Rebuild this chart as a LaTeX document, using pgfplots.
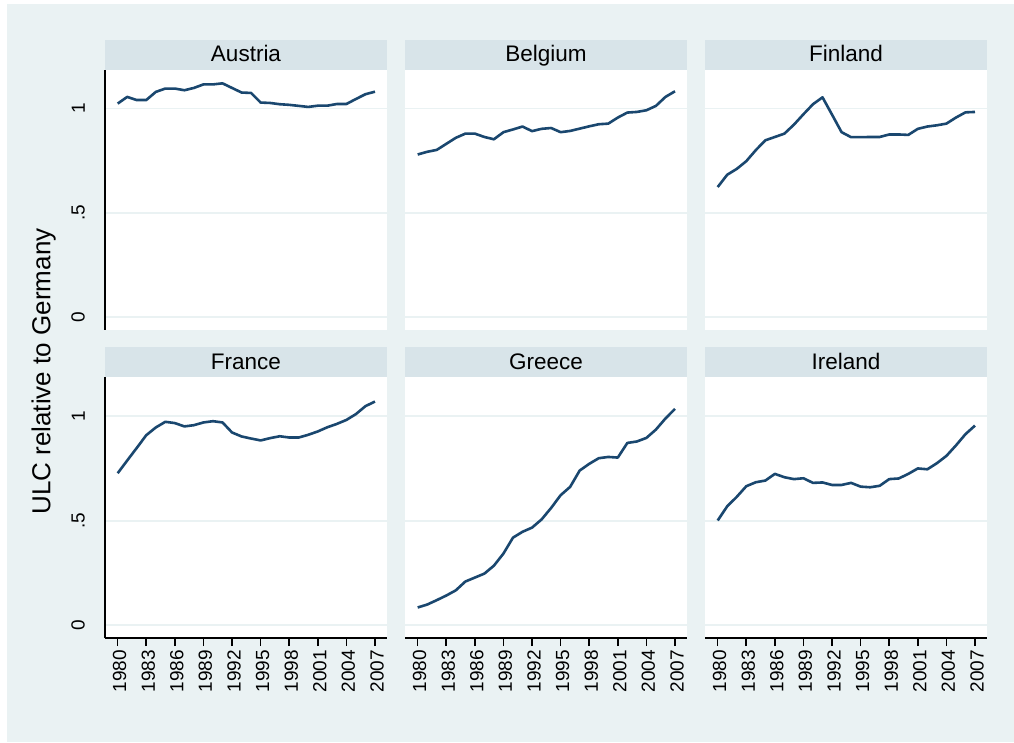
\documentclass[border=0pt]{standalone}
\usepackage{fontspec}
\setmainfont{Liberation Sans}
\usepackage{pgfplots}
\usepackage{pgfplotstable}
\pgfplotsset{compat=1.18}
\definecolor{bgc}{RGB}{234,242,243}
\definecolor{stripc}{RGB}{216,228,233}
\definecolor{linec}{RGB}{26,71,111}
\definecolor{gridc}{RGB}{234,242,243}
\newcommand{\tickfont}{\fontsize{19}{22}\selectfont}
\newcommand{\titlefont}{\fontsize{22.5}{26}\selectfont}
\newcommand{\labelfont}{\fontsize{26}{30}\selectfont}

\pgfplotstableread{
year AT BE FI FR GR IE
1980 1.024 0.780 0.624 0.727 0.085 0.501
1981 1.056 0.793 0.683 0.788 0.099 0.569
1982 1.041 0.802 0.711 0.848 0.120 0.614
1983 1.041 0.831 0.748 0.909 0.142 0.665
1984 1.080 0.860 0.801 0.946 0.167 0.684
1985 1.096 0.880 0.848 0.973 0.209 0.692
1986 1.096 0.880 0.864 0.967 0.228 0.724
1987 1.088 0.864 0.880 0.951 0.247 0.708
1988 1.099 0.853 0.923 0.957 0.285 0.699
1989 1.116 0.887 0.973 0.970 0.343 0.703
1990 1.116 0.900 1.021 0.976 0.419 0.681
1991 1.121 0.914 1.054 0.970 0.447 0.683
1992 1.099 0.892 0.971 0.922 0.467 0.671
1993 1.077 0.903 0.887 0.903 0.506 0.671
1994 1.075 0.907 0.863 0.893 0.561 0.681
1995 1.029 0.887 0.863 0.884 0.622 0.663
1996 1.027 0.893 0.864 0.895 0.662 0.660
1997 1.021 0.904 0.864 0.904 0.740 0.667
1998 1.018 0.915 0.876 0.898 0.772 0.699
1999 1.013 0.925 0.876 0.898 0.799 0.702
2000 1.008 0.928 0.874 0.911 0.805 0.724
2001 1.014 0.957 0.903 0.927 0.802 0.750
2002 1.014 0.981 0.914 0.947 0.872 0.746
2003 1.022 0.984 0.920 0.963 0.879 0.775
2004 1.022 0.992 0.928 0.982 0.896 0.810
2005 1.046 1.013 0.957 1.010 0.936 0.860
2006 1.069 1.056 0.982 1.048 0.989 0.914
2007 1.081 1.083 0.984 1.070 1.035 0.955
}\ulcdata

\pgfplotsset{
  ulcline/.style={color=linec, line width=2.6pt, line join=round, no marks},
  panel/.style={
    scale only axis, width=282pt, height=260pt,
    xmin=1978.67, xmax=2008.26, ymin=-0.061, ymax=1.185,
    axis line style={draw=none},
    axis background/.style={fill=white},
    ytick={0,0.5,1}, yticklabels={}, ymajorgrids,
    major grid style={gridc, line width=1.6pt},
    xtick=\empty,
    ytick style={draw=none},
    tick align=outside, major tick length=8pt,
    ytick pos=left, xtick pos=bottom,
  },
  ptitle/.style={
    extra description/.append code={
      \fill[stripc] (axis description cs:0,1) rectangle (axis description cs:1,1.1154);
      \node[font=\titlefont, inner sep=0pt, anchor=base] at (axis description cs:0.5,1.0308) {#1};
    }
  },
  leftcol/.style={
    yticklabels={0,.5,1},
    ytick style={black, line width=1.6pt},
    yticklabel style={rotate=90, anchor=south, font=\tickfont, inner sep=0pt, yshift=12pt},
    extra description/.append code={
      \draw[black, line width=1.6pt] (axis description cs:0,0) -- (axis description cs:0,1);
    }
  },
  botrow/.style={
    height=260.5pt,
    xtick={1980,1983,...,2007},
    xticklabels={1980,1983,1986,1989,1992,1995,1998,2001,2004,2007},
    xtick style={black, line width=1.6pt},
    xticklabel style={rotate=90, anchor=east, font=\tickfont, inner sep=0pt, xshift=-4pt, yshift=-2pt},
    extra description/.append code={
      \draw[black, line width=1.6pt] (axis description cs:0,0) -- (axis description cs:1,0);
    }
  },
}

\begin{document}
\begin{tikzpicture}[x=1pt,y=1pt]
\fill[white] (0,0) rectangle (1014,742);
\fill[bgc] (7,0) rectangle (1014,738);

\begin{axis}[panel, leftcol, ptitle=Austria, at={(105pt,412pt)}, anchor=south west]
\addplot[ulcline] table[x=year,y=AT] {\ulcdata};
\end{axis}
\begin{axis}[panel, ptitle=Belgium, at={(405pt,412pt)}, anchor=south west]
\addplot[ulcline] table[x=year,y=BE] {\ulcdata};
\end{axis}
\begin{axis}[panel, ptitle=Finland, at={(705pt,412pt)}, anchor=south west]
\addplot[ulcline] table[x=year,y=FI] {\ulcdata};
\end{axis}

\begin{axis}[panel, leftcol, botrow, ptitle=France, at={(105pt,104pt)}, anchor=south west]
\addplot[ulcline] table[x=year,y=FR] {\ulcdata};
\end{axis}
\begin{axis}[panel, botrow, ptitle=Greece, at={(405pt,104pt)}, anchor=south west]
\addplot[ulcline] table[x=year,y=GR] {\ulcdata};
\end{axis}
\begin{axis}[panel, botrow, ptitle=Ireland, at={(705pt,104pt)}, anchor=south west]
\addplot[ulcline] table[x=year,y=IE] {\ulcdata};
\end{axis}

\node[rotate=90, font=\labelfont, inner sep=0pt] at (43.7,370.5) {ULC relative to Germany};
\end{tikzpicture}
\end{document}
